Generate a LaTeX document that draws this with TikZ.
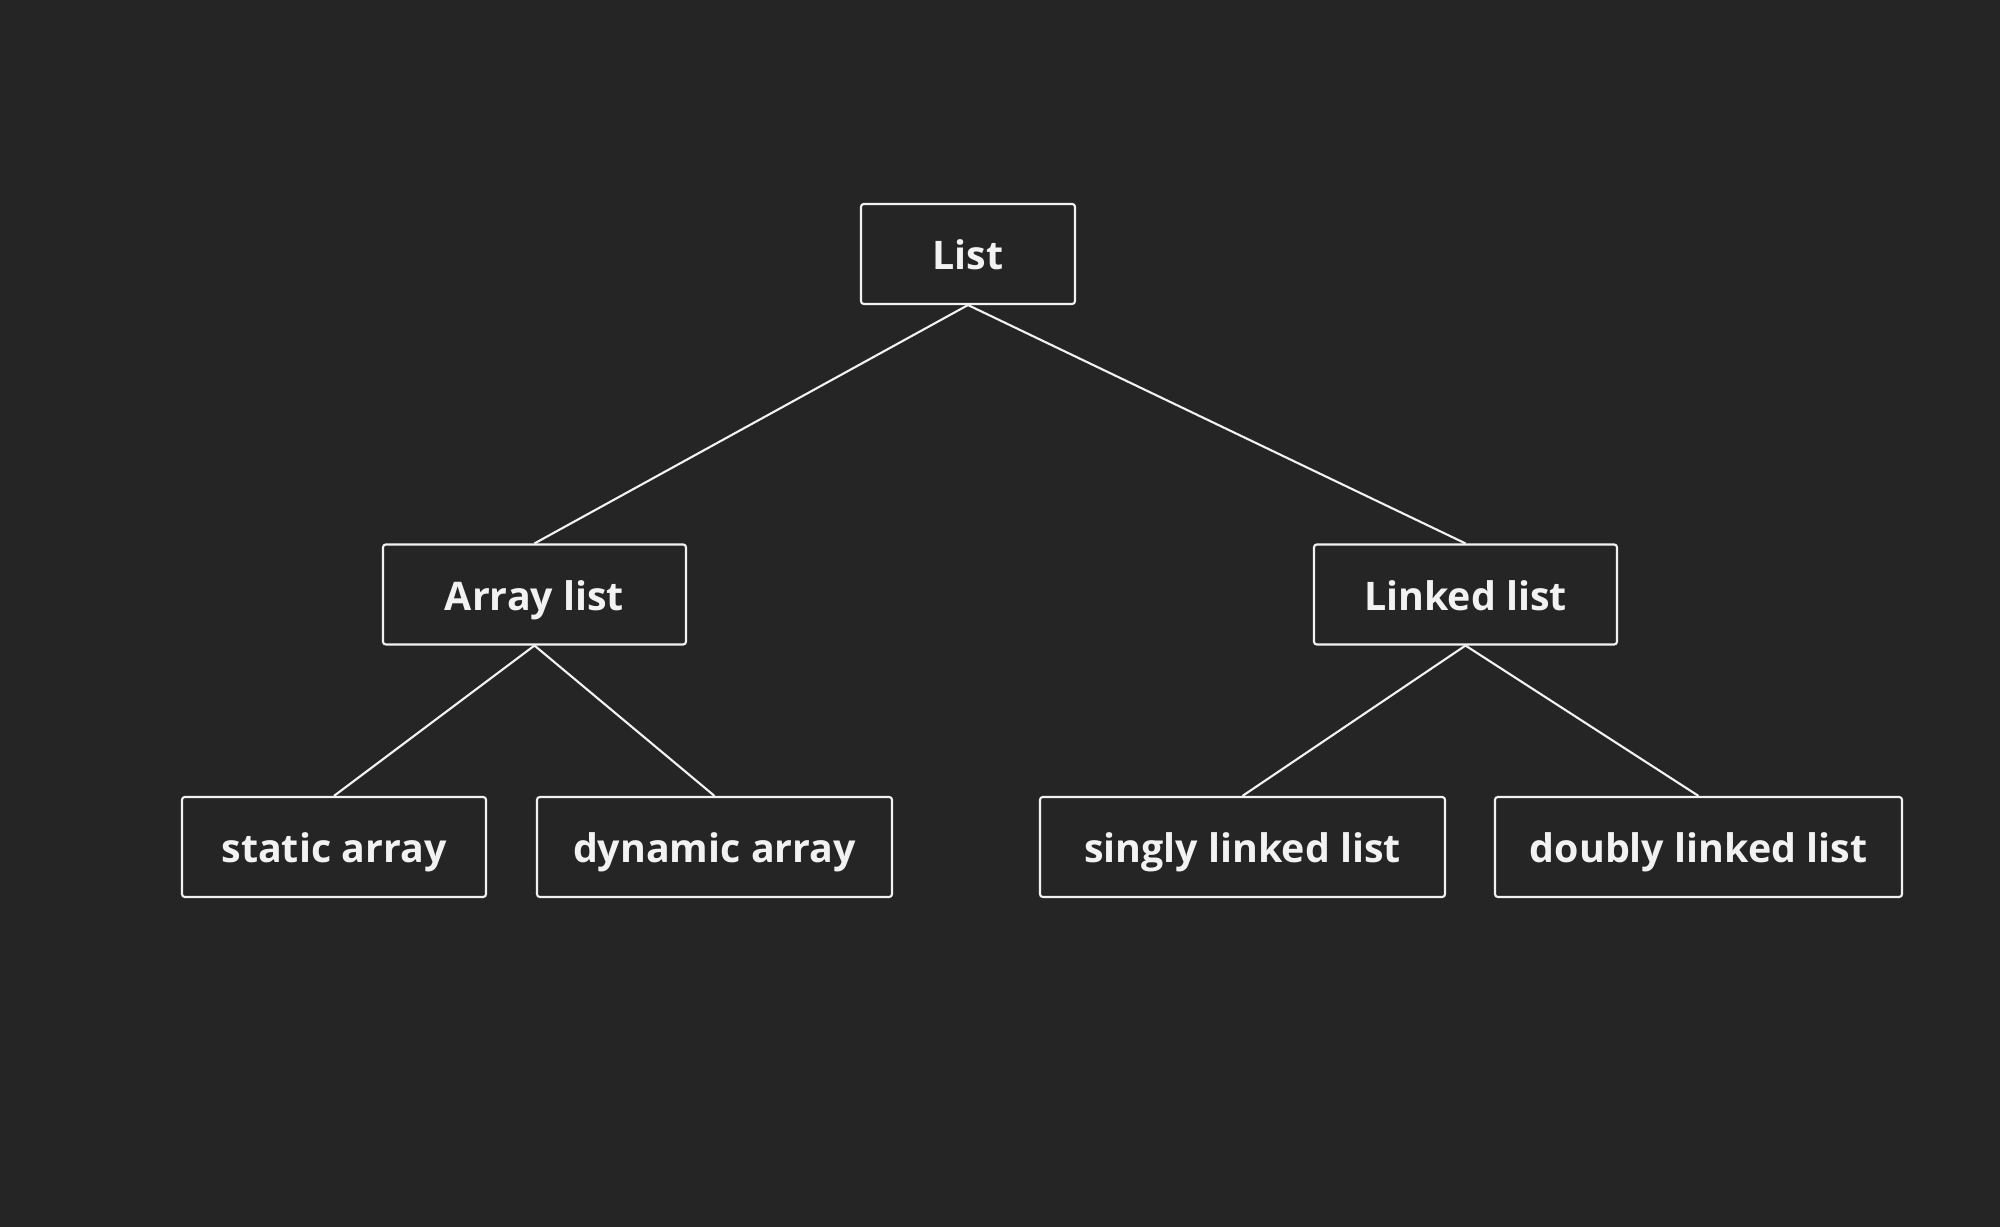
\documentclass[tikz,border=0pt]{standalone}
\usepackage{fontspec}
\setmainfont{Open Sans}
\usetikzlibrary{positioning}
\definecolor{bgc}{HTML}{252525}
\definecolor{fgc}{HTML}{F2F2F2}
\begin{document}
\begin{tikzpicture}[every node/.style={inner sep=0mm, text height=3.2mm, text depth=0mm, font=\fontsize{11.2}{13}\selectfont\bfseries, text=fgc},
                  bx/.style={draw=fgc, fill=bgc, line width=0.6pt, rounded corners=0.8pt, minimum height=10mm},
                  ln/.style={draw=fgc, line width=0.6pt}]
    
    \fill[bgc] (0,0) rectangle (20,12.27);
    \useasboundingbox (0,0) rectangle (20,12.27); % 2000 x 1227 px
    
    \node [bx, minimum width=21.4mm] (list) at (9.68, 9.73) {List};
    \node [bx, minimum width=30.3mm] (arr)  at (5.345, 6.325) {Array list};
    \node [bx, minimum width=30.3mm] (lnk)  at (14.655, 6.325) {Linked list};
    
    \node [bx, minimum width=30.4mm] (sta)  at (3.34, 3.80) {static array};
    \node [bx, minimum width=35.5mm] (dyn)  at (7.145, 3.80) {dynamic array};
    \node [bx, minimum width=40.5mm] (sng)  at (12.425, 3.80) {singly linked list};
    \node [bx, minimum width=40.7mm] (dbl)  at (16.985, 3.80) {doubly linked list};
    
    \draw [ln] (list.south) -- (arr.north);
    \draw [ln] (list.south) -- (lnk.north);
    \draw [ln] (arr.south) -- (sta.north);
    \draw [ln] (arr.south) -- (dyn.north);
    \draw [ln] (lnk.south) -- (sng.north);
    \draw [ln] (lnk.south) -- (dbl.north);
    
\end{tikzpicture}
\end{document}
